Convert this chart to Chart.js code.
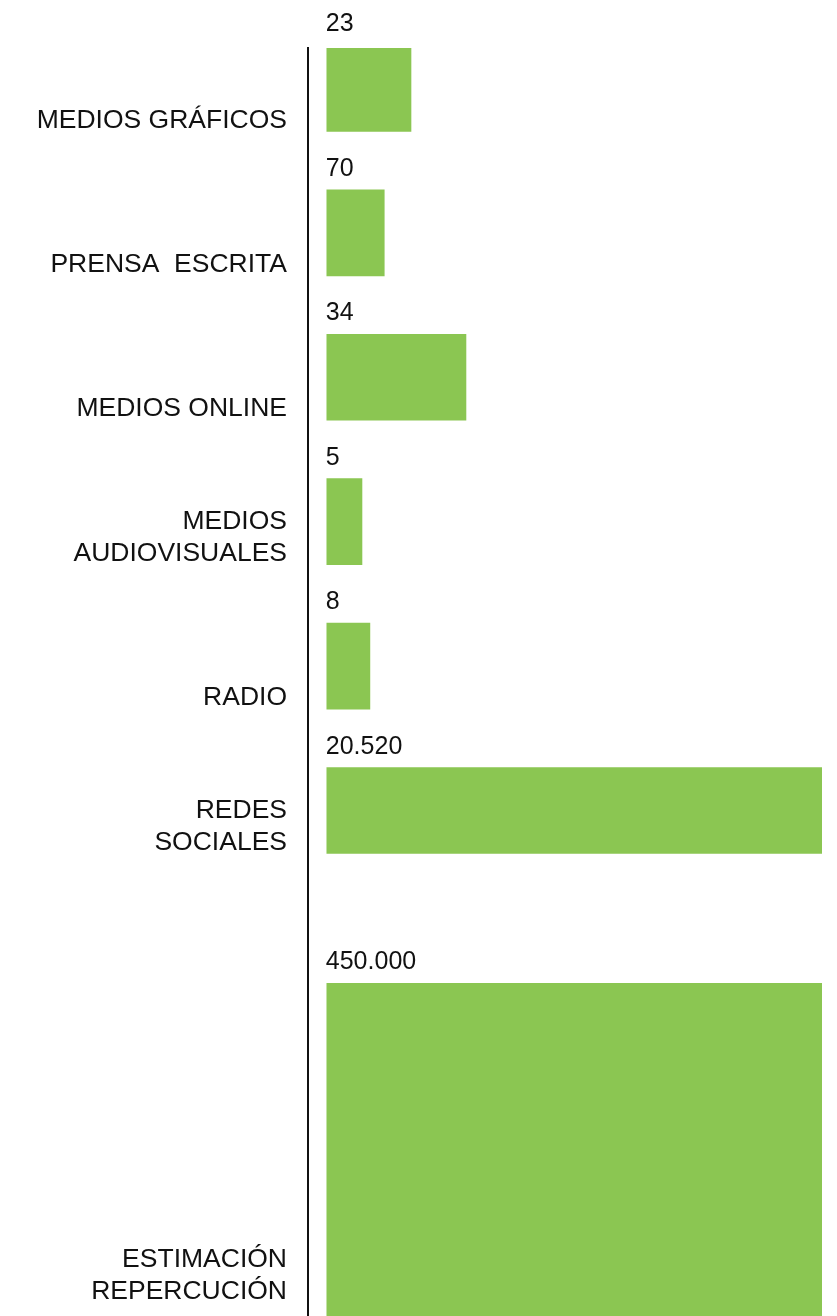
<!DOCTYPE html>
<html lang="es">
<head>
<meta charset="utf-8">
<title>Repercusión en medios</title>
<script src="https://cdn.jsdelivr.net/npm/chart.js@4.4.1/dist/chart.umd.min.js"></script>
<style>
  html, body { margin: 0; padding: 0; background: #fff; overflow: hidden; }
  #chart-box { position: relative; width: 837px; height: 1316px; }
</style>
</head>
<body>
<div id="chart-box"><canvas id="mediaChart"></canvas></div>
<script>
'use strict';

// ***** DATA *****
let categories = [
  ['MEDIOS GRÁFICOS'],
  ['PRENSA  ESCRITA'],
  ['MEDIOS ONLINE'],
  ['MEDIOS', 'AUDIOVISUALES'],
  ['RADIO'],
  ['REDES', 'SOCIALES'],
  ['ESTIMACIÓN', 'REPERCUCIÓN']
];
let values = [23, 70, 34, 5, 8, 20520, 450000];
// bar lengths as drawn in the picture (they are not to scale), 100 = full width
let barLengths = [17, 11.6, 28.1, 7.1, 8.7, 100, 100];

// ***** LAYOUT / STYLE *****
const FONT = '"Liberation Sans", Arial, sans-serif';
const GREEN = '#8bc652';
const INK = '#111111';
const LAST_ROW_GAP = 2;   // empty rows before the tall last bar

Chart.defaults.font.family = FONT;
Chart.defaults.color = INK;

// ***** HELPERS *****
function formatValue(n){
  return String(n).replace(/\B(?=(\d{3})+(?!\d))/g, '.');
}

function rowOf(i){
  return i === categories.length - 1 ? i + LAST_ROW_GAP : i;
}

// labels sit at the bottom of their bar, so pad them with blank lines on top
function tickLabel(i){
  let lines = categories[i].slice();
  while(lines.length < 2){
    lines.unshift('');
  }
  if(i === categories.length - 1){
    lines.unshift('');
  }
  return lines;
}

let mainData = [];
let tallData = [];
for(let i = 0; i < categories.length; i++){
  let point = { x: barLengths[i], y: rowOf(i), idx: i };
  if(i === categories.length - 1){
    tallData.push(point);
  } else {
    mainData.push(point);
  }
}

// value numbers written above each bar
const valueLabels = {
  id: 'valueLabels',
  afterDatasetsDraw(chart){
    const ctx = chart.ctx;
    ctx.save();
    ctx.font = '25px ' + FONT;
    ctx.fillStyle = INK;
    ctx.textAlign = 'left';
    ctx.textBaseline = 'alphabetic';
    chart.data.datasets.forEach((ds, d) => {
      chart.getDatasetMeta(d).data.forEach((bar, j) => {
        let top = bar.y - bar.height / 2;
        ctx.fillText(formatValue(values[ds.data[j].idx]), bar.base - 1, top - 14);
      });
    });
    ctx.restore();
  }
};

// ***** CHART *****
const canvasElem = document.getElementById('mediaChart');

new Chart(canvasElem, {
  type: 'bar',
  data: {
    datasets: [{
      data: mainData,
      backgroundColor: GREEN,
      borderWidth: 0,
      barThickness: 86
    },
    {
      data: tallData,
      backgroundColor: GREEN,
      borderWidth: 0,
      barThickness: 521
    }]
  },
  options: {
    indexAxis: 'y',
    responsive: true,
    maintainAspectRatio: false,
    animation: false,
    grouped: false,
    layout: { padding: { top: 48, right: 15, bottom: 0, left: 0 } },
    plugins: {
      legend: { display: false },
      tooltip: { enabled: false }
    },
    scales: {
      x: {
        type: 'linear',
        display: false,
        bounds: 'data',
        min: -3.8,
        max: 100
      },
      y: {
        type: 'linear',
        reverse: true,
        offset: false,
        bounds: 'data',
        min: -0.28,
        max: 8.5,
        afterFit: (scale) => {
          scale.width = 308;
          scale.paddingTop = 0;
          scale.paddingBottom = 0;
        },
        afterBuildTicks: (scale) => {
          scale.ticks = categories.map((c, i) => ({ value: rowOf(i) }));
        },
        grid: { display: false, drawTicks: false, offset: false },
        border: { display: true, color: INK, width: 2 },
        ticks: {
          autoSkip: false,
          padding: 21,
          labelOffset: 16,
          color: INK,
          font: { size: 26.5, lineHeight: 1.2 },
          callback: (value, index) => tickLabel(index)
        }
      }
    }
  },
  plugins: [valueLabels]
});
</script>
</body>
</html>
